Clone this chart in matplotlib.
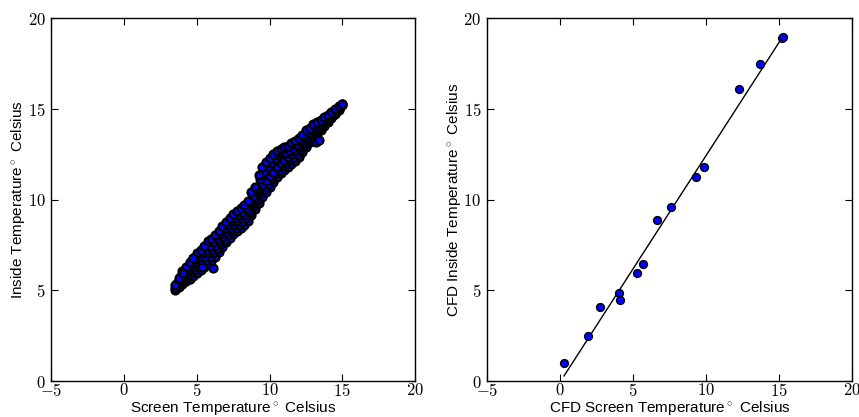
import matplotlib
matplotlib.use('Agg')
import matplotlib.pyplot as plt
from matplotlib.ticker import FuncFormatter

plt.rcParams['font.family'] = ['Liberation Sans', 'DejaVu Sans']
plt.rcParams['mathtext.fontset'] = 'cm'

# left panel: screen vs inside temperature (five strands)
screen_a = [3.5, 3.75, 4.0, 4.25, 4.5, 4.75, 5.0, 5.25, 5.5, 5.75, 6.0, 6.25, 6.5, 6.75, 7.0, 7.25,
            7.5, 7.75, 8.0, 8.25, 8.5, 8.75, 9.0, 9.25, 9.5, 9.75, 10.0, 10.25, 10.5, 10.75, 11.0,
            11.25, 11.5, 11.75, 12.0, 12.25, 12.5, 12.75, 13.0, 13.25, 13.5, 13.75, 14.0, 14.25,
            14.5, 14.75, 15.0]
inside_upper = [5.30, 5.68, 6.05, 6.30, 6.55, 6.80, 7.05, 7.24, 7.43, 7.70, 7.83, 8.05, 8.29, 8.53,
                8.76, 9.00, 9.19, 9.36, 9.53, 9.70, 9.95, 10.40, 10.70, 11.35, 11.80, 12.10, 12.30,
                12.50, 12.70, 12.80, 12.90, 12.95, 13.15, 13.22, 13.40, 13.59, 13.85, 13.96, 14.15,
                14.29, 14.42, 14.56, 14.69, 14.85, 15.00, 15.16, 15.30]
inside_mid = [5.15, 5.43, 5.70, 5.90, 6.10, 6.30, 6.50, 6.68, 6.86, 7.05, 7.23, 7.45, 7.70, 7.95,
              8.20, 8.45, 8.64, 8.81, 8.98, 9.15, 9.39, 9.74, 10.10, 10.45, 10.80, 11.05, 11.30,
              11.55, 11.80, 12.03, 12.19, 12.35, 12.51, 12.67, 12.88, 13.11, 13.34, 13.57, 13.80,
              13.97, 14.14, 14.31, 14.48, 14.67, 14.86, 15.06, 15.25]
inside_lower = [5.00, 5.18, 5.35, 5.50, 5.65, 5.80, 5.95, 6.12, 6.29, 6.47, 6.63, 6.85, 7.11, 7.37,
                7.64, 7.90, 8.09, 8.26, 8.43, 8.60, 8.83, 9.16, 9.50, 9.82, 10.15, 10.42, 10.69,
                10.96, 11.23, 11.48, 11.64, 11.80, 11.96, 12.12, 12.36, 12.63, 12.91, 13.18, 13.45,
                13.65, 13.86, 14.06, 14.27, 14.49, 14.72, 14.96, 15.20]

screen_b = [3.62, 3.87, 4.12, 4.37, 4.62, 4.87, 5.12, 5.37, 5.62, 5.87, 6.12, 6.37, 6.62, 6.87,
            7.12, 7.37, 7.62, 7.87, 8.12, 8.37, 8.62, 8.87, 9.12, 9.37, 9.62, 9.87, 10.12, 10.37,
            10.62, 10.87, 11.12, 11.37, 11.62, 11.87, 12.12, 12.37, 12.62, 12.87, 13.12, 13.37,
            13.62, 13.87, 14.12, 14.37, 14.62, 14.87]
inside_upper_mid = [5.39, 5.72, 5.99, 6.21, 6.44, 6.66, 6.87, 7.05, 7.24, 7.44, 7.64, 7.87, 8.12,
                    8.36, 8.60, 8.82, 9.00, 9.17, 9.34, 9.55, 9.85, 10.22, 10.58, 11.15, 11.50,
                    11.80, 12.00, 12.25, 12.45, 12.55, 12.55, 12.71, 12.87, 13.04, 13.25, 13.45,
                    13.66, 13.87, 14.05, 14.21, 14.36, 14.51, 14.67, 14.85, 15.02, 15.19]
inside_lower_mid = [5.19, 5.42, 5.61, 5.79, 5.96, 6.14, 6.31, 6.49, 6.67, 6.85, 7.04, 7.28, 7.53,
                    7.79, 8.05, 8.27, 8.45, 8.62, 8.79, 8.99, 9.28, 9.63, 9.97, 10.31, 10.61,
                    10.87, 11.13, 11.39, 11.64, 11.84, 12.00, 12.16, 12.32, 12.51, 12.75, 13.00,
                    13.25, 13.50, 13.72, 13.91, 14.09, 14.28, 14.48, 14.69, 14.90, 15.12]

screen_extra = [4.05, 4.73, 5.34, 6.10, 13.20, 13.42]
inside_extra = [5.95, 6.78, 6.28, 6.23, 13.20, 13.28]

# right panel: CFD screen vs CFD inside temperature
cfd_screen = [0.25, 1.92, 2.71, 4.01, 4.11, 5.23, 5.68, 6.62, 7.58, 9.32, 9.84, 12.23, 13.70,
              15.18, 15.25]
cfd_inside = [1.01, 2.50, 4.08, 4.87, 4.47, 5.96, 6.43, 8.90, 9.58, 11.27, 11.82, 16.09, 17.47,
              18.90, 18.97]
fit_x = [0.27, 15.20]
fit_y = [0.28, 18.95]

fig = plt.figure(figsize=(8.59, 4.17), dpi=100)
ax1 = fig.add_axes([0.05995, 0.0863, 0.4232, 0.8698])
ax2 = fig.add_axes([0.5669, 0.0863, 0.4255, 0.8698])

for xs, ys in [(screen_a, inside_lower), (screen_b, inside_lower_mid), (screen_a, inside_mid),
               (screen_b, inside_upper_mid), (screen_a, inside_upper), (screen_extra, inside_extra)]:
    ax1.scatter(xs, ys, s=32, c='b', edgecolors='k', linewidths=1.7, zorder=3)

ax2.plot(fit_x, fit_y, color='k', linewidth=1.0, zorder=2)
ax2.scatter(cfd_screen, cfd_inside, s=32, c='b', edgecolors='k', linewidths=1.0, zorder=3)

ax1.set_xlabel('Screen Temperature$^\\circ$ Celsius', fontsize=11, labelpad=0)
ax1.set_ylabel('Inside Temperature$^\\circ$ Celsius', fontsize=11, labelpad=0.5)
ax2.set_xlabel('CFD Screen Temperature$^\\circ$ Celsius', fontsize=11, labelpad=0)
ax2.set_ylabel('CFD Inside Temperature$^\\circ$ Celsius', fontsize=11, labelpad=0.5)

fmt = FuncFormatter(lambda v, p: '$%g$' % v)
for ax in (ax1, ax2):
    ax.set_xlim(-5, 20)
    ax.set_ylim(0, 20)
    ax.set_xticks([-5, 0, 5, 10, 15, 20])
    ax.set_yticks([0, 5, 10, 15, 20])
    ax.xaxis.set_major_formatter(fmt)
    ax.yaxis.set_major_formatter(fmt)
    ax.tick_params(direction='in', top=True, right=True, length=5, width=0.8, labelsize=12)
    ax.tick_params(axis='x', pad=1)
    ax.tick_params(axis='y', pad=4)
    for sp in ax.spines.values():
        sp.set_linewidth(1.0)

fig.savefig('out.png', dpi=100)
